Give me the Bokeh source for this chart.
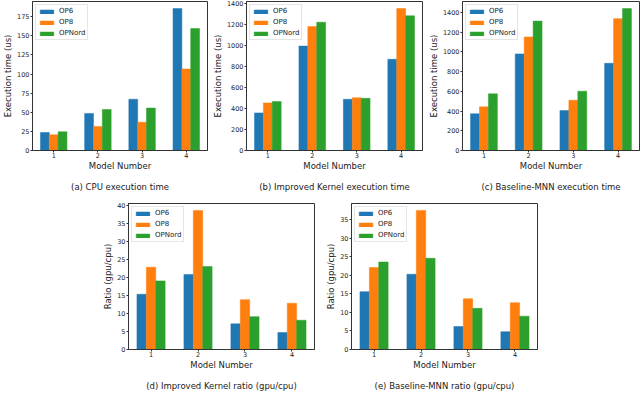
from bokeh.plotting import figure
from bokeh.layouts import column, row
from bokeh.models import Range1d, FixedTicker, LinearAxis, Spacer
from bokeh.embed import file_html
from bokeh.resources import INLINE

models = [1, 2, 3, 4]
series = ["OP6", "OP8", "OPNord"]
colors = ["#1f77b4", "#ff7f0e", "#2ca02c"]
bar_offsets = [-0.2, 0.0, 0.2]

# (a) CPU execution time (us)
cpu_op6 = [23.5, 48.5, 67.0, 185.5]
cpu_op8 = [20.5, 31.5, 37.0, 106.5]
cpu_opnord = [24.5, 53.5, 55.5, 159.5]

# (b) Improved Kernel execution time (us)
ik_op6 = [358, 995, 488, 869]
ik_op8 = [453, 1181, 502, 1352]
ik_opnord = [466, 1222, 497, 1283]

# (c) Baseline-MNN execution time (us)
mnn_op6 = [372, 980, 405, 885]
mnn_op8 = [443, 1152, 510, 1338]
mnn_opnord = [575, 1313, 602, 1440]

# (d) Improved Kernel ratio (gpu/cpu)
ikr_op6 = [15.3, 20.8, 7.1, 4.7]
ikr_op8 = [22.8, 38.5, 13.8, 12.8]
ikr_opnord = [19.0, 23.0, 9.1, 8.1]

# (e) Baseline-MNN ratio (gpu/cpu)
mnnr_op6 = [15.6, 20.3, 6.2, 4.8]
mnnr_op8 = [22.1, 37.5, 13.7, 12.6]
mnnr_opnord = [23.6, 24.6, 11.1, 9.0]

yticks_cpu = [0, 25, 50, 75, 100, 125, 150, 175]
yticks_time = [0, 200, 400, 600, 800, 1000, 1200, 1400]
yticks_ratio_d = [0, 5, 10, 15, 20, 25, 30, 35, 40]
yticks_ratio_e = [0, 5, 10, 15, 20, 25, 30, 35]

xlabel = "Model Number"
ylabel_time = "Execution time (us)"
ylabel_ratio = "Ratio (gpu/cpu)"

FONT = "DejaVu Sans"
TXT = "#222222"


def make_panel(vals_list, yticks, ylabel, caption, width, height, bl, br, bt):
    ymax = max(max(v) for v in vals_list) * 1.05
    p = figure(width=width, height=height, x_range=Range1d(0.52, 4.48),
               y_range=Range1d(0, ymax), output_backend="svg",
               toolbar_location=None, min_border_left=bl, min_border_right=br,
               min_border_top=bt, min_border_bottom=20)
    for k, vals in enumerate(vals_list):
        xs = [m + bar_offsets[k] for m in models]
        p.vbar(x=xs, top=vals, width=0.2, fill_color=colors[k], line_color=colors[k],
               line_width=0.5, legend_label=series[k])
    p.xgrid.visible = False
    p.ygrid.visible = False
    p.outline_line_color = "#333333"
    p.outline_line_alpha = 1.0
    p.background_fill_color = "white"
    p.border_fill_color = "white"
    for ax in (p.xaxis[0], p.yaxis[0]):
        ax.axis_line_color = "#333333"
        ax.major_tick_line_color = "#333333"
        ax.minor_tick_line_color = None
        ax.major_tick_out = 2
        ax.major_tick_in = 0
        ax.major_label_text_font = FONT
        ax.major_label_text_font_size = "6.5px"
        ax.major_label_text_color = TXT
        ax.major_label_standoff = 1
        ax.axis_label_text_font = FONT
        ax.axis_label_text_font_size = "8.5px"
        ax.axis_label_text_font_style = "normal"
        ax.axis_label_text_color = TXT
        ax.axis_label_standoff = 1
    p.xaxis[0].major_label_standoff = 0
    p.xaxis[0].axis_label_standoff = 0
    p.xaxis[0].ticker = FixedTicker(ticks=models)
    p.yaxis[0].ticker = FixedTicker(ticks=yticks)
    p.xaxis[0].axis_label = xlabel
    p.yaxis[0].axis_label = ylabel
    # caption as a tick-less axis label below the x axis
    cap = LinearAxis(ticker=FixedTicker(ticks=[]), axis_label=caption,
                     axis_line_color=None, major_tick_line_color=None,
                     minor_tick_line_color=None, major_tick_out=0, major_tick_in=0,
                     major_label_standoff=0, major_label_text_font_size="0px",
                     axis_label_standoff=8, axis_label_text_font=FONT,
                     axis_label_text_font_size="8.5px",
                     axis_label_text_font_style="normal", axis_label_text_color=TXT)
    p.add_layout(cap, "below")
    lg = p.legend[0]
    lg.location = "top_left"
    lg.label_text_font = FONT
    lg.label_text_font_size = "7px"
    lg.label_text_color = TXT
    lg.glyph_width = 17
    lg.glyph_height = 5
    lg.label_height = 8
    lg.label_standoff = 4
    lg.spacing = 3
    lg.padding = 2
    lg.margin = 3
    lg.border_line_color = "#cccccc"
    lg.background_fill_alpha = 0.9
    return p


pa = make_panel([cpu_op6, cpu_op8, cpu_opnord], yticks_cpu, ylabel_time,
                "(a) CPU execution time", 209, 194, 28, 2, 1)
pb = make_panel([ik_op6, ik_op8, ik_opnord], yticks_time, ylabel_time,
                "(b) Improved Kernel execution time", 216, 194, 34, 3, 1)
pc = make_panel([mnn_op6, mnn_op8, mnn_opnord], yticks_time, ylabel_time,
                "(c) Baseline-MNN execution time", 215, 194, 35, 1, 1)
pd = make_panel([ikr_op6, ikr_op8, ikr_opnord], yticks_ratio_d, ylabel_ratio,
                "(d) Improved Kernel ratio (gpu/cpu)", 221, 199, 30, 5, 7)
pe = make_panel([mnnr_op6, mnnr_op8, mnnr_opnord], yticks_ratio_e, ylabel_ratio,
                "(e) Baseline-MNN ratio (gpu/cpu)", 221, 199, 32, 3, 9)

layout = column(row(pa, pb, pc), row(Spacer(width=98), pd, pe))

open("out.html", "w").write(file_html(layout, INLINE))
